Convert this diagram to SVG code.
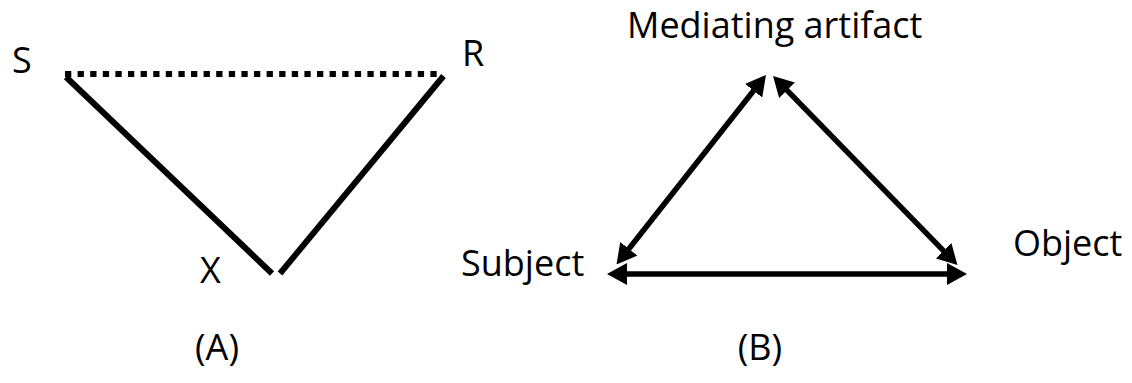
<svg xmlns="http://www.w3.org/2000/svg" width="1132" height="383" viewBox="0 0 1132 383">
  <style>
    .lbl { font-family: "Open Sans", "Liberation Sans", sans-serif; font-size: 36px; fill: #000; }
    .edge { stroke: #000; stroke-width: 6; fill: none; stroke-linecap: butt; }
    .dot { stroke: #000; stroke-width: 6; fill: none; stroke-dasharray: 6.3 6.3; }
    .arr { stroke: #000; stroke-width: 5.5; fill: none; marker-start: url(#head); marker-end: url(#head); }
  </style>
  <defs>
    <marker id="head" markerUnits="userSpaceOnUse" viewBox="0 -11 20 22" markerWidth="20" markerHeight="22" refX="5" refY="0" orient="auto-start-reverse">
      <path d="M0,-11 L20,0 L0,11 Z" fill="#000"/>
    </marker>
  </defs>
  <rect width="1132" height="383" fill="#fff"/>

  <g id="connectors">
    <line class="dot" x1="65" y1="74" x2="442" y2="74"/>
    <line class="edge" x1="66" y1="77" x2="272" y2="273.5"/>
    <line class="edge" x1="443.5" y1="76" x2="280" y2="273.5"/>
    <line class="arr" x1="625.8" y1="252.7" x2="756.7" y2="86.8"/>
    <line class="arr" x1="783.5" y1="86.7" x2="947" y2="254.3"/>
    <line class="arr" x1="622" y1="274" x2="952" y2="274"/>
  </g>

  <g id="node-S"><text class="lbl" x="12" y="73">S</text></g>
  <g id="node-R"><text class="lbl" x="462" y="66">R</text></g>
  <g id="node-X"><text class="lbl" x="200" y="283">X</text></g>
  <g id="node-subject"><text class="lbl" x="461" y="276">Subject</text></g>
  <g id="node-object"><text class="lbl" x="1013" y="256">Object</text></g>
  <g id="node-mediating"><text class="lbl" x="627" y="38">Mediating artifact</text></g>
  <g id="label-A"><text class="lbl" x="217" y="360" text-anchor="middle">(A)</text></g>
  <g id="label-B"><text class="lbl" x="760" y="360" text-anchor="middle">(B)</text></g>
</svg>
